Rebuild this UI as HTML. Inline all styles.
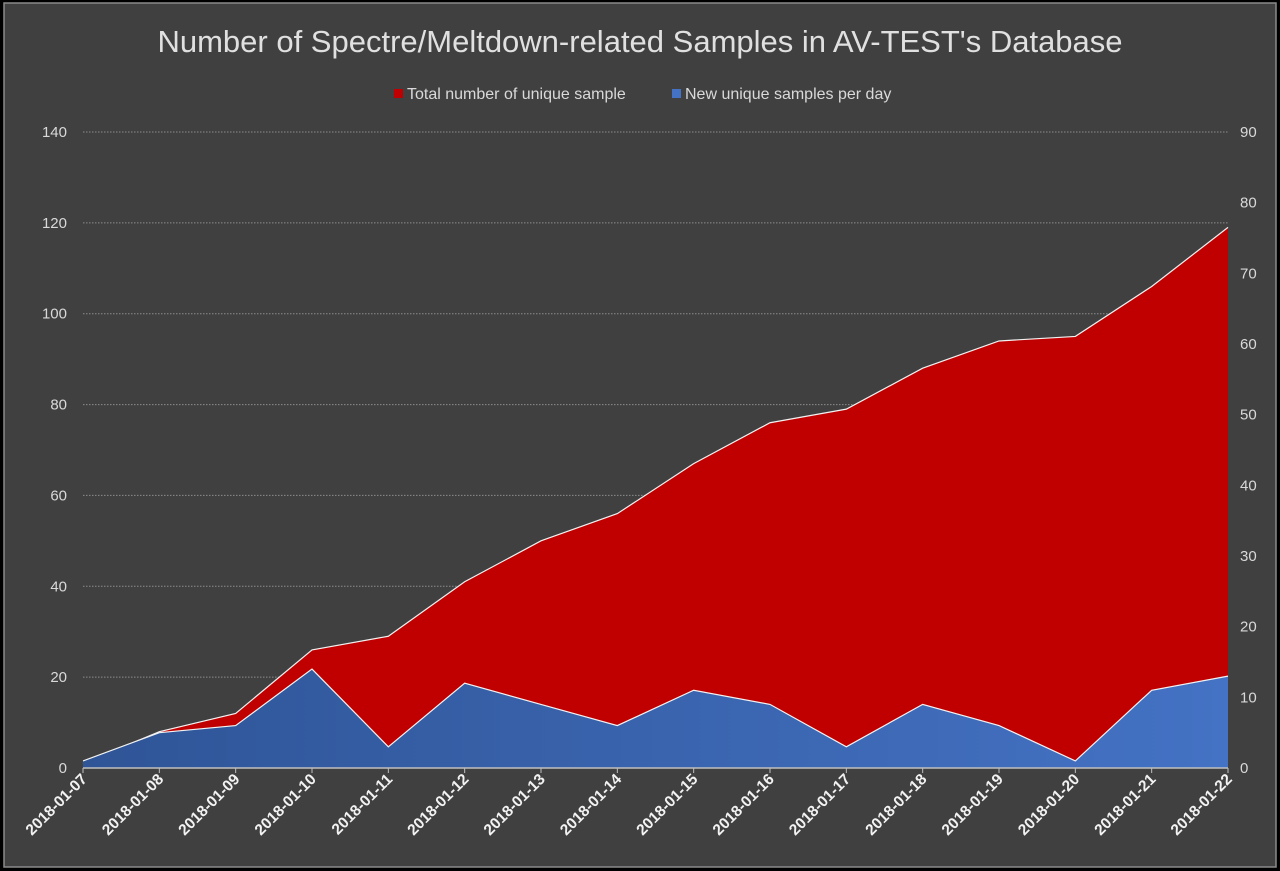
<!DOCTYPE html>
<html><head><meta charset="utf-8"><style>
html,body{margin:0;padding:0;background:#000;}
svg{display:block;font-family:"Liberation Sans",sans-serif;}
</style></head><body>
<svg id="chart" width="1280" height="871">
<defs>
<linearGradient id="bg" x1="0" x2="1" y1="0" y2="0"><stop offset="0" stop-color="#2f5597"/><stop offset="1" stop-color="#4472c4"/></linearGradient>
</defs>
<rect x="0" y="0" width="1280" height="871" fill="#000"/>
<rect x="4" y="3" width="1272" height="864" fill="#404040" stroke="#8a8a8a" stroke-width="1.5"/>
<text x="640" y="52" text-anchor="middle" fill="#e0e0e0" font-size="31">Number of Spectre/Meltdown-related Samples in AV-TEST's Database</text>
<g>
<g><rect x="394" y="89" width="9" height="9" fill="#c00000"/><text x="407" y="99" fill="#d9d9d9" font-size="16">Total number of unique sample</text></g>
<g><rect x="672" y="89" width="9" height="9" fill="#4472c4"/><text x="685" y="99" fill="#d9d9d9" font-size="16">New unique samples per day</text></g>
</g>
<g id="grid"></g><g id="areas"></g><g id="axes"></g>
</svg>
<script>
const categories=["2018-01-07","2018-01-08","2018-01-09","2018-01-10","2018-01-11","2018-01-12","2018-01-13","2018-01-14","2018-01-15","2018-01-16","2018-01-17","2018-01-18","2018-01-19","2018-01-20","2018-01-21","2018-01-22"];
const totalSamples=[1,8,12,26,29,41,50,56,67,76,79,88,94,95,106,119];
const newSamples=[1,5,6,14,3,12,9,6,11,9,3,9,6,1,11,13];
const leftTicks=[0,20,40,60,80,100,120,140];
const rightTicks=[0,10,20,30,40,50,60,70,80,90];
const NS="http://www.w3.org/2000/svg";
const x0=83,x1=1228,yB=768,yT=132;
const xS=i=>x0+(x1-x0)*i/(categories.length-1);
const yL=v=>yB-(yB-yT)*v/140;
const yR=v=>yB-(yB-yT)*v/90;
function mk(t,a,p){const e=document.createElementNS(NS,t);for(const k in a)e.setAttribute(k,a[k]);p.appendChild(e);return e;}
const grid=document.getElementById('grid'),areas=document.getElementById('areas'),axes=document.getElementById('axes');
leftTicks.forEach(v=>{
 if(v>0){const l=mk('line',{x1:x0,x2:x1,y1:yL(v),y2:yL(v),stroke:'#8c8c8c','stroke-dasharray':'1.5 1.5'},grid);
 
 }
 const t=mk('text',{x:67,y:yL(v)+5,'text-anchor':'end',fill:'#d9d9d9','font-size':'15'},axes);t.textContent=v;
 
 
});
rightTicks.forEach(v=>{
 const t=mk('text',{x:1240,y:yR(v)+5,fill:'#d9d9d9','font-size':'15'},axes);t.textContent=v;
 
 
});
function areaPath(vals,ys){let d='M'+xS(0)+','+yB;vals.forEach((v,i)=>d+=' L'+xS(i)+','+ys(v));return d+' L'+xS(vals.length-1)+','+yB+' Z';}
function linePath(vals,ys){return vals.map((v,i)=>(i?'L':'M')+xS(i)+','+ys(v)).join(' ');}
const ra=mk('path',{d:areaPath(totalSamples,yL),fill:'#c00000'},areas);


const rl=mk('path',{d:linePath(totalSamples,yL),fill:'none',stroke:'#f2f2f2','stroke-width':1.2},areas);


const ba=mk('path',{d:areaPath(newSamples,yR),fill:'url(#bg)'},areas);


const bl=mk('path',{d:linePath(newSamples,yR),fill:'none',stroke:'#f2f2f2','stroke-width':1.2},areas);


const ax=mk('line',{x1:x0,x2:x1,y1:yB,y2:yB,stroke:'#bfbfbf','stroke-width':1.5},axes);


categories.forEach((c,i)=>{
 const tk=mk('line',{x1:xS(i),x2:xS(i),y1:yB,y2:yB+5,stroke:'#bfbfbf'},axes);
 
 
 const t=mk('text',{x:xS(i)+5,y:yB+12,'text-anchor':'end',fill:'#f2f2f2','font-size':'15.5','font-weight':'bold',transform:'rotate(-45 '+(xS(i)+5)+' '+(yB+12)+')'},axes);
 t.textContent=c;
 
 
});
</script>
</body></html>
